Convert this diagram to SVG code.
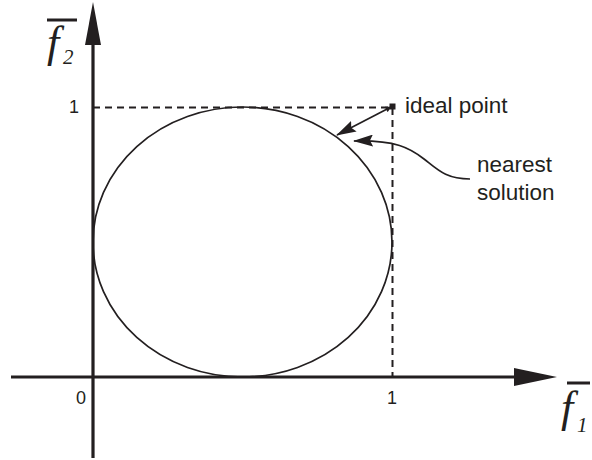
<svg xmlns="http://www.w3.org/2000/svg" width="592" height="460" viewBox="0 0 592 460">
<style>
.lbl{font-family:"Liberation Sans",Arial,sans-serif;fill:#231f20}
.num{font-family:"Liberation Sans",Arial,sans-serif;font-size:18px;fill:#231f20}
.var{font-family:"Liberation Serif","Times New Roman",serif;font-style:italic;fill:#231f20}
.axis{stroke:#231f20;stroke-width:3.2;fill:none}
.dash{stroke:#231f20;stroke-width:2;stroke-dasharray:7,5;fill:none}
.thin{stroke:#231f20;stroke-width:1.7;fill:none}
</style>
<defs>
<marker id="ah" viewBox="0 0 10 10" refX="9" refY="5" markerWidth="7" markerHeight="6" markerUnits="userSpaceOnUse" orient="auto-start-reverse">
<path d="M0,0 L10,5 L0,10 z" fill="#231f20"/>
</marker>
<marker id="ahb" viewBox="0 0 20 12" refX="19" refY="6" markerWidth="20" markerHeight="12" markerUnits="userSpaceOnUse" orient="auto">
<path d="M0,0 L20,6 L0,12 L3,6 z" fill="#231f20"/>
</marker>
</defs>
<g id="axes">
<line class="axis" x1="11" y1="377" x2="516" y2="377"/>
<polygon points="514,368 557,377 514,386" fill="#231f20"/>
<line class="axis" x1="93" y1="458" x2="93" y2="44"/>
<polygon points="85,45 93,2 101,45" fill="#231f20"/>
</g>
<g id="guides">
<polyline class="dash" points="93,107.5 392.5,107.5 392.5,377"/>
</g>
<g id="front">
<ellipse class="thin" cx="242.5" cy="242" rx="149.5" ry="135"/>
</g>
<g id="ideal-point">
<rect x="389.5" y="103.5" width="6" height="6" fill="#231f20"/>
<text class="lbl" x="405" y="113" font-size="22.5">ideal point</text>
</g>
<g id="nearest-solution">
<text class="lbl" x="477" y="172" font-size="22.5">nearest</text>
<text class="lbl" x="477" y="200" font-size="22.5">solution</text>
</g>
<g id="connectors">
<line class="thin" x1="391" y1="107" x2="337" y2="135" marker-start="url(#ah)" marker-end="url(#ahb)"/>
<path class="thin" d="M470,179 C446,179 438,170 424,159 C410,148 396,140 354,141" marker-end="url(#ahb)"/>
</g>
<g id="labels">
<text class="num" x="69" y="113">1</text>
<text class="num" x="76" y="404">0</text>
<text class="num" x="387" y="404">1</text>
<line x1="47" y1="20" x2="77" y2="20" stroke="#231f20" stroke-width="3"/>
<text class="var" x="47" y="57" font-size="44">f</text>
<text class="var" x="63" y="64" font-size="21">2</text>
<line x1="567" y1="383" x2="590" y2="383" stroke="#231f20" stroke-width="3"/>
<text class="var" x="561" y="422" font-size="44">f</text>
<text class="var" x="577" y="432" font-size="21">1</text>
</g>
</svg>
